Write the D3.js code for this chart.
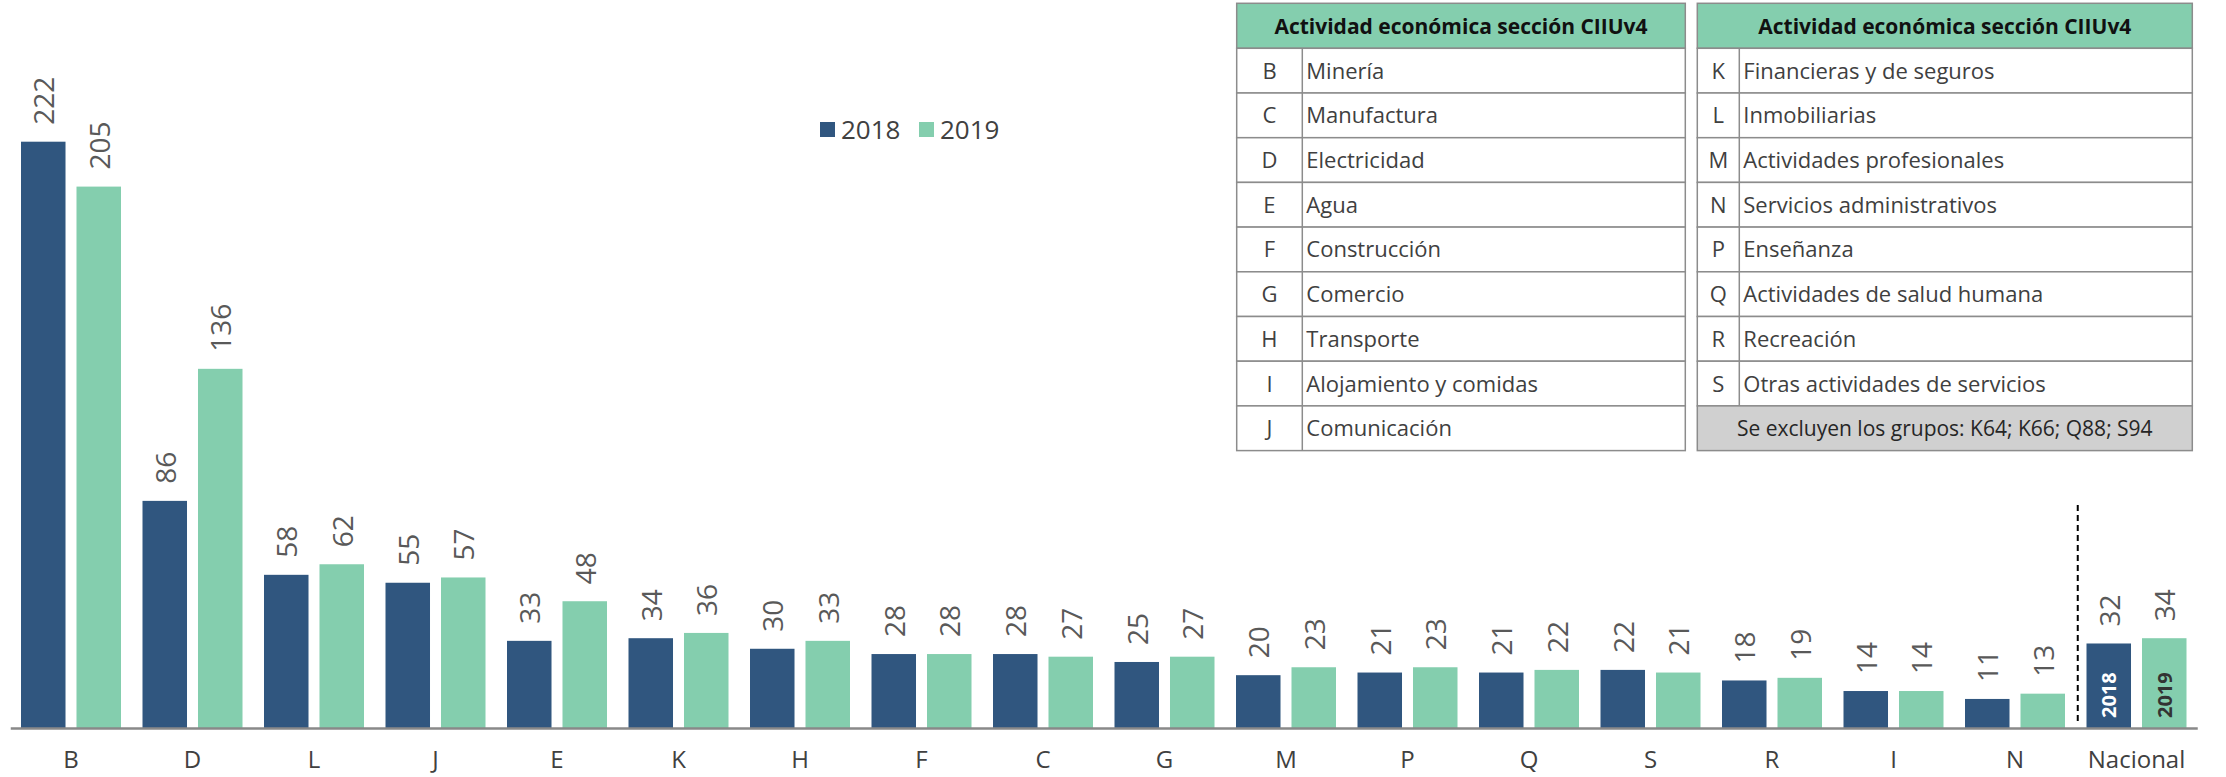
<!DOCTYPE html>
<html lang="es">
<head>
<meta charset="UTF-8">
<title>Actividad económica sección CIIUv4</title>
<style>
    body, html {
        margin: 0;
        padding: 0;
        background: #fff;
        font-family: "Century Gothic", "Open Sans", sans-serif;
    }
    #chart {
        width: 2226px;
        height: 777px;
    }
</style>
<script src="https://d3js.org/d3.v7.min.js"></script>
</head>
<body>
<div id="chart"></div>
<script>
// data
const categories = ["B", "D", "L", "J", "E", "K", "H", "F", "C", "G", "M", "P", "Q", "S", "R", "I", "N", "Nacional"];
const values2018 = [222, 86, 58, 55, 33, 34, 30, 28, 28, 25, 20, 21, 21, 22, 18, 14, 11, 32];
const values2019 = [205, 136, 62, 57, 48, 36, 33, 28, 27, 27, 23, 23, 22, 21, 19, 14, 13, 34];
const seriesNames = ["2018", "2019"];

const tableTitle = "Actividad económica sección CIIUv4";
const leftCodes = ["B", "C", "D", "E", "F", "G", "H", "I", "J"];
const leftNames = ["Minería", "Manufactura", "Electricidad", "Agua", "Construcción", "Comercio", "Transporte", "Alojamiento y comidas", "Comunicación"];
const rightCodes = ["K", "L", "M", "N", "P", "Q", "R", "S"];
const rightNames = ["Financieras y de seguros", "Inmobiliarias", "Actividades profesionales", "Servicios administrativos", "Enseñanza", "Actividades de salud humana", "Recreación", "Otras actividades de servicios"];
const tableNote = "Se excluyen los grupos: K64; K66; Q88; S94";

const colors = {"2018": "#30567f", "2019": "#84ceae"};
const width = 2226, height = 777;
const baseY = 728;

const svg = d3.select("#chart").append("svg")
    .attr("width", width)
    .attr("height", height)
    .style("display", "block");

const rows = categories.map((c, i) => ({cat: c, "2018": values2018[i], "2019": values2019[i]}));

const x0 = d3.scaleBand().domain(categories).range([10.25, 2197.25]);
const x1 = d3.scaleBand().domain(seriesNames).range([0, 100]).paddingInner(0.198);
const groupOffset = (x0.bandwidth() - 100) / 2;
const y = d3.scaleLinear().domain([0, 250]).range([baseY, baseY - 250 * 2.641]);

// bars
const groups = svg.append("g").selectAll("g")
    .data(rows)
    .join("g")
    .attr("transform", d => `translate(${x0(d.cat) + groupOffset},0)`);

groups.selectAll("rect")
    .data(d => seriesNames.map(s => ({s, v: d[s], cat: d.cat})))
    .join("rect")
    .attr("x", d => x1(d.s))
    .attr("width", x1.bandwidth())
    .attr("y", d => y(d.v))
    .attr("height", d => y(0) - y(d.v))
    .attr("fill", d => colors[d.s]);

// value labels
groups.selectAll("text.val")
    .data(d => seriesNames.map(s => ({s, v: d[s]})))
    .join("text")
    .attr("class", "val")
    .attr("transform", d => `translate(${x1(d.s) + x1.bandwidth() / 2},${y(d.v) - 17}) rotate(-90)`)
    .attr("text-anchor", "start")
    .attr("dominant-baseline", "central")
    .style("font-size", "28px")
    .style("fill", "#595959")
    .text(d => d.v);

// year labels inside the Nacional bars
const nac = groups.filter(d => d.cat === "Nacional");
nac.selectAll("text.yr")
    .data(seriesNames)
    .join("text")
    .attr("class", "yr")
    .attr("transform", s => `translate(${x1(s) + x1.bandwidth() / 2},${baseY - 10}) rotate(-90)`)
    .attr("text-anchor", "start")
    .attr("dominant-baseline", "central")
    .style("font-size", "20px")
    .style("font-weight", "bold")
    .style("fill", s => s === "2018" ? "#ffffff" : "#333333")
    .text(s => s);

// x axis
const xAxis = svg.append("g")
    .attr("transform", `translate(0,${baseY})`)
    .call(d3.axisBottom(x0).tickSize(0).tickPadding(23));
xAxis.select(".domain").attr("stroke", "#898989").attr("stroke-width", 2.5);
xAxis.selectAll("text")
    .style("font-family", "\"Century Gothic\", \"Open Sans\", sans-serif")
    .style("font-size", "24px")
    .style("fill", "#404040");

// dashed separator before Nacional
const sepX = (x0("N") + x0.bandwidth() + x0("Nacional")) / 2 + 2;
svg.append("line")
    .attr("x1", sepX).attr("x2", sepX)
    .attr("y1", 505).attr("y2", 722)
    .attr("stroke", "#000")
    .attr("stroke-width", 2)
    .attr("stroke-dasharray", "6 4");

// legend
const legend = svg.append("g").attr("transform", "translate(820,122)");
const legendItems = legend.selectAll("g")
    .data(seriesNames)
    .join("g")
    .attr("transform", (d, i) => `translate(${i * 99},0)`);
legendItems.append("rect")
    .attr("width", 15).attr("height", 15)
    .attr("fill", d => colors[d]);
legendItems.append("text")
    .attr("x", 21).attr("y", 16.5)
    .style("font-size", "26px")
    .style("fill", "#404040")
    .text(d => d);

// tables
const rowH = 44.7, tableTop = 3.3, headH = 45;
const lineColor = "#8c8c8c";

function drawTable(x, w, codeW, codes, names, note) {
    const g = svg.append("g");
    g.append("rect")
        .attr("x", x).attr("y", tableTop).attr("width", w).attr("height", headH)
        .attr("fill", "#84ceae").attr("stroke", lineColor).attr("stroke-width", 1.5);
    g.append("text")
        .attr("x", x + w / 2).attr("y", tableTop + headH / 2 + 8)
        .attr("text-anchor", "middle")
        .style("font-size", "21px")
        .style("font-weight", "bold")
        .style("fill", "#111")
        .text(tableTitle);

    const body = g.selectAll("g.row")
        .data(codes.map((c, i) => ({c, n: names[i], i})))
        .join("g")
        .attr("class", "row")
        .attr("transform", d => `translate(${x},${tableTop + headH + d.i * rowH})`);
    body.append("rect")
        .attr("width", w).attr("height", rowH)
        .attr("fill", "#fff").attr("stroke", lineColor).attr("stroke-width", 1.5);
    body.append("line")
        .attr("x1", codeW).attr("x2", codeW)
        .attr("y1", 0).attr("y2", rowH)
        .attr("stroke", lineColor).attr("stroke-width", 1.5);
    body.append("text")
        .attr("x", codeW / 2).attr("y", rowH / 2 + 8)
        .attr("text-anchor", "middle")
        .style("font-size", "22px")
        .style("fill", "#404040")
        .text(d => d.c);
    body.append("text")
        .attr("x", codeW + 4).attr("y", rowH / 2 + 8)
        .style("font-size", "22px")
        .style("fill", "#404040")
        .text(d => d.n);

    if (note) {
        const ny = tableTop + headH + codes.length * rowH;
        g.append("rect")
            .attr("x", x).attr("y", ny).attr("width", w).attr("height", rowH)
            .attr("fill", "#d0d0d0").attr("stroke", lineColor).attr("stroke-width", 1.5);
        g.append("text")
            .attr("x", x + w / 2).attr("y", ny + rowH / 2 + 8)
            .attr("text-anchor", "middle")
            .style("font-size", "21px")
            .style("fill", "#262626")
            .text(note);
    }
}

drawTable(1236.7, 448.6, 65.6, leftCodes, leftNames, null);
drawTable(1697.3, 495, 42, rightCodes, rightNames, tableNote);
</script>
</body>
</html>
